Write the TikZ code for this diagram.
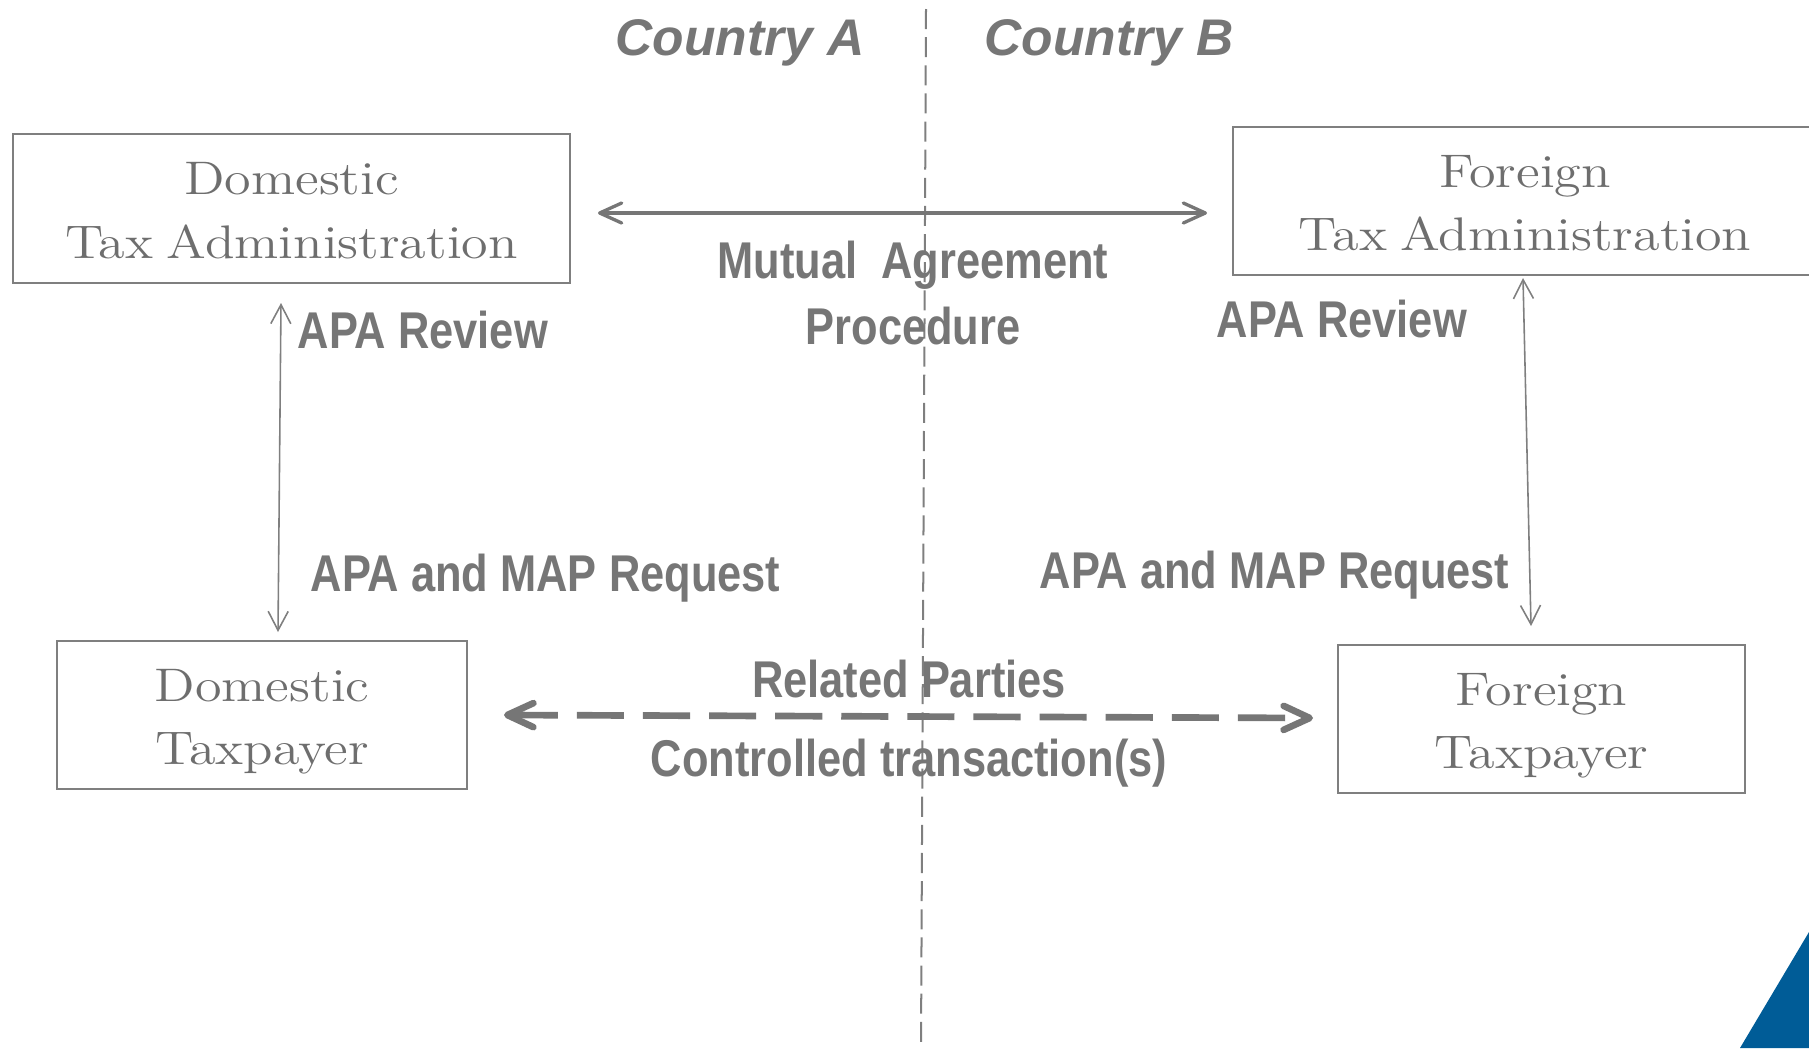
\documentclass[tikz,border=0pt]{standalone}
\usepackage{fontspec}
\usetikzlibrary{arrows.meta}

\newfontfamily\boxfont{Latin Modern Roman}[FakeStretch=1.15, WordSpace=0.75]
\newfontfamily\lblfont{Liberation Sans}[FakeStretch=0.84]
\newfontfamily\ctryfont{Liberation Sans}
\newcommand{\boxstrut}{\rule[-2.8pt]{0pt}{15.8pt}}

\definecolor{txtgray}{HTML}{767676}
\definecolor{boxtxt}{HTML}{6E6E6E}
\definecolor{linegray}{HTML}{7F7F7F}
\definecolor{cornerblue}{HTML}{005C97}

\tikzset{
  party/.style={draw=linegray, line width=0.57pt, inner sep=0pt, align=center,
    text=boxtxt, font={\boxfont\fontsize{13.4}{18.1}\selectfont}},
  lbl/.style={inner sep=0pt, text=txtgray, align=center,
    font={\lblfont\bfseries\fontsize{14.7}{19}\selectfont}},
  ctry/.style={inner sep=0pt, text=txtgray,
    font={\ctryfont\bfseries\itshape\fontsize{14.65}{18}\selectfont}},
  thinarr/.style={draw=linegray, line width=0.45pt,
    {Straight Barb[length=0.19cm,width=0.2cm]}-{Straight Barb[length=0.19cm,width=0.2cm]}},
  maparr/.style={draw=txtgray, line width=0.95pt,
    {Straight Barb[length=0.22cm,width=0.2cm,round]}-{Straight Barb[length=0.22cm,width=0.2cm,round]}},
  trarr/.style={draw=txtgray, line width=1.9pt, dash pattern=on 13.4pt off 5.4pt,
    {Straight Barb[length=0.26cm,width=0.24cm,round]}-{Straight Barb[length=0.26cm,width=0.24cm,round]}},
  border/.style={draw=linegray, line width=0.57pt, dash pattern=on 5.7pt off 2.3pt}
}

\begin{document}
\begin{tikzpicture}[x=0.01cm, y=-0.01cm]
\useasboundingbox (0,0) rectangle (1809,1048);

% the two countries
\node[ctry, anchor=base] (cA) at (740,55) {Country A};
\node[ctry, anchor=base] (cB) at (1109,55) {Country B};
\coordinate (divtop) at (926,9);
\coordinate (divbot) at (921,1048);
\draw[border] (divtop) -- (divbot);

% boxes
\node[party, minimum width=5.57cm, minimum height=1.49cm] (dta) at (291.5,208.5)
  {\boxstrut Domestic\\Tax Administration\boxstrut};
\node[party, minimum width=5.84cm, minimum height=1.48cm] (fta) at (1525,201)
  {\boxstrut Foreign\\Tax Administration\boxstrut};
\node[party, minimum width=4.10cm, minimum height=1.48cm] (dtp) at (262,715)
  {\boxstrut Domestic\\Taxpayer\boxstrut};
\node[party, minimum width=4.07cm, minimum height=1.48cm] (ftp) at (1541.5,719)
  {\boxstrut Foreign\\Taxpayer\boxstrut};

% arrow ends
\coordinate (mapl) at (598,213);
\coordinate (mapr) at (1207,213);
\coordinate (lt) at (281,303);
\coordinate (lb) at (278,632);
\coordinate (rt) at (1523,278);
\coordinate (rb) at (1531,626);
\coordinate (trl) at (504,715);
\coordinate (trr) at (1313,718);

\draw[maparr] (mapl) -- (mapr);
\draw[thinarr] (lt) -- (lb);
\draw[thinarr] (rt) -- (rb);
\draw[trarr] (trl) -- (trr);

% labels
\node[lbl, anchor=north] (map) at (913,240) {Mutual\ \ Agreement\\Procedure};
\node[lbl, anchor=base west] (revA) at (297,348) {APA Review};
\node[lbl, anchor=base west] (revB) at (1216,337) {APA Review};
\node[lbl, anchor=base west] (reqA) at (310,591) {APA and MAP Request};
\node[lbl, anchor=base west] (reqB) at (1039,588) {APA and MAP Request};
\node[lbl, anchor=base] (rel) at (909,697) {Related Parties};
\node[lbl, anchor=base] (ctr) at (909,776) {Controlled transaction(s)};

\fill[cornerblue] (1740,1048) -- (1809,932) -- (1809,1048) -- cycle;
\end{tikzpicture}
\end{document}
